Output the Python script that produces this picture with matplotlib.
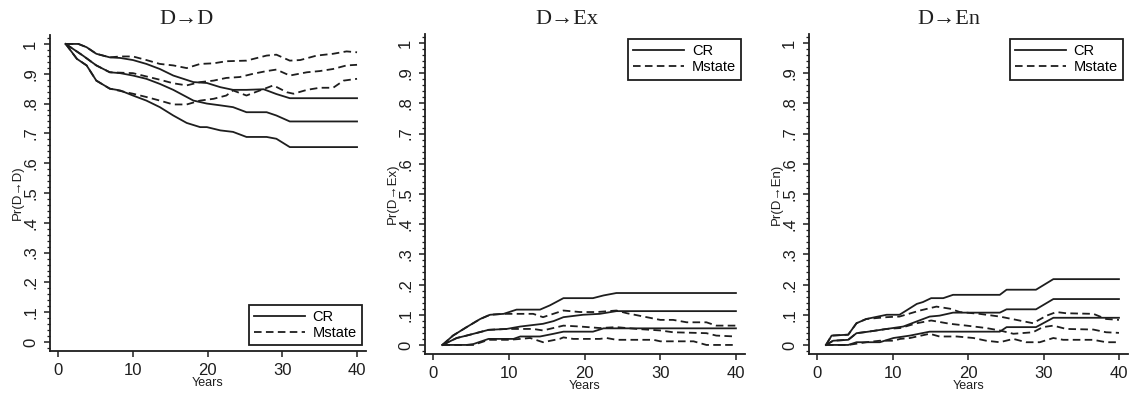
import numpy as np
import matplotlib.pyplot as plt
from matplotlib.ticker import MultipleLocator

# t = years, p = probability
# D -> D
dd_cr_hi_t = [1, 2.7, 3.8, 5.1, 6.9, 8.3, 10.0, 11.8, 13.6, 15.4, 18.1, 19.9, 21.7, 23.4, 25.2, 27.5, 29.2, 31.0, 40]
dd_cr_hi_p = [1.0, 1.0, 0.989, 0.967, 0.955, 0.953, 0.946, 0.933, 0.916, 0.894, 0.872, 0.869, 0.855, 0.846, 0.846, 0.848, 0.832, 0.818, 0.818]
dd_cr_est_t = [1, 3.3, 5.1, 6.9, 8.3, 10.0, 11.8, 13.6, 15.4, 17.2, 18.1, 19.9, 21.7, 23.4, 25.2, 27.9, 29.2, 31.0, 40]
dd_cr_est_p = [1.0, 0.961, 0.928, 0.905, 0.902, 0.894, 0.883, 0.866, 0.846, 0.822, 0.81, 0.80, 0.794, 0.788, 0.771, 0.771, 0.76, 0.74, 0.74]
dd_cr_lo_t = [1, 2.5, 3.8, 5.1, 6.9, 8.3, 10.0, 11.8, 13.6, 15.4, 17.2, 19.0, 19.9, 21.7, 23.4, 25.2, 27.9, 29.2, 31.0, 40]
dd_cr_lo_p = [1.0, 0.95, 0.928, 0.877, 0.85, 0.844, 0.827, 0.81, 0.788, 0.76, 0.735, 0.721, 0.721, 0.71, 0.705, 0.688, 0.688, 0.682, 0.654, 0.654]
dd_ms_hi_t = [1, 2.7, 3.8, 5.1, 6.9, 8.3, 10.0, 11.8, 13.6, 15.4, 17.2, 19.0, 20.8, 22.5, 25.2, 27.9, 29.2, 31.0, 32.4, 34.6, 36.8, 38.6, 40]
dd_ms_hi_p = [1.0, 1.0, 0.989, 0.967, 0.955, 0.958, 0.958, 0.946, 0.933, 0.928, 0.919, 0.933, 0.935, 0.942, 0.944, 0.961, 0.964, 0.944, 0.946, 0.961, 0.967, 0.975, 0.972]
dd_ms_est_t = [1, 3.3, 5.1, 6.9, 10.0, 11.8, 13.6, 15.4, 17.2, 19.0, 20.8, 22.5, 24.3, 26.1, 27.9, 29.2, 31.0, 33.3, 35.0, 36.8, 38.6, 40]
dd_ms_est_p = [1.0, 0.961, 0.928, 0.905, 0.902, 0.891, 0.88, 0.868, 0.861, 0.872, 0.877, 0.886, 0.889, 0.9, 0.909, 0.914, 0.894, 0.905, 0.909, 0.916, 0.928, 0.93]
dd_ms_lo_t = [1, 2.5, 3.8, 5.1, 6.9, 10.0, 11.8, 13.6, 15.4, 17.2, 19.0, 20.8, 22.5, 23.4, 25.2, 27.0, 28.8, 30.6, 31.5, 33.3, 35.0, 36.8, 38.2, 40]
dd_ms_lo_p = [1.0, 0.95, 0.928, 0.877, 0.85, 0.833, 0.822, 0.81, 0.797, 0.797, 0.81, 0.816, 0.827, 0.844, 0.827, 0.844, 0.861, 0.838, 0.833, 0.846, 0.853, 0.853, 0.877, 0.883]

# D -> Ex
de_cr_hi_t = [1.2, 2.6, 4.4, 6.2, 7.5, 9.3, 11.0, 14.1, 15.4, 17.2, 21.1, 22.5, 24.2, 40]
de_cr_hi_p = [0, 0.031, 0.059, 0.086, 0.10, 0.103, 0.117, 0.117, 0.131, 0.155, 0.155, 0.164, 0.172, 0.172]
de_cr_est_t = [1.2, 3.1, 4.4, 7.3, 9.7, 11.5, 14.5, 15.9, 17.2, 19.8, 22.0, 24.2, 40]
de_cr_est_p = [0, 0.023, 0.031, 0.05, 0.053, 0.061, 0.07, 0.079, 0.092, 0.10, 0.103, 0.112, 0.112]
de_cr_lo_t = [1.2, 4.4, 5.3, 7.3, 10.6, 11.5, 14.1, 15.9, 17.2, 21.1, 22.5, 40]
de_cr_lo_p = [0, 0, 0.003, 0.02, 0.02, 0.028, 0.028, 0.037, 0.044, 0.044, 0.055, 0.055]
de_ms_hi_t = [1.2, 2.6, 4.4, 6.2, 7.5, 9.3, 13.2, 14.5, 17.2, 19.4, 21.6, 24.2, 25.6, 28.2, 30.0, 31.7, 33.5, 36.1, 37.4, 40]
de_ms_hi_p = [0, 0.031, 0.059, 0.086, 0.10, 0.103, 0.103, 0.092, 0.114, 0.109, 0.109, 0.114, 0.105, 0.092, 0.083, 0.083, 0.075, 0.075, 0.064, 0.064]
de_ms_est_t = [1.2, 3.1, 4.4, 7.3, 9.7, 13.2, 14.5, 17.2, 19.4, 22.0, 24.2, 26.9, 30.0, 31.7, 36.1, 37.4, 40]
de_ms_est_p = [0, 0.023, 0.031, 0.05, 0.053, 0.053, 0.048, 0.064, 0.061, 0.056, 0.059, 0.053, 0.048, 0.042, 0.039, 0.031, 0.028]
de_ms_lo_t = [1.2, 5.3, 7.3, 10.1, 11.5, 12.8, 14.5, 16.7, 17.2, 18.5, 22.0, 22.9, 24.2, 29.1, 30.0, 34.4, 36.1, 40]
de_ms_lo_p = [0, 0, 0.017, 0.017, 0.02, 0.023, 0.009, 0.02, 0.025, 0.02, 0.02, 0.023, 0.017, 0.017, 0.012, 0.012, 0.0, 0.0]

# D -> En
den_cr_hi_t = [1.15, 1.9, 4.1, 5.2, 6.5, 9.2, 10.9, 11.8, 13.2, 14.0, 15.1, 16.7, 18.0, 24.2, 25.1, 29.0, 31.3, 40]
den_cr_hi_p = [0, 0.031, 0.034, 0.072, 0.086, 0.10, 0.10, 0.114, 0.136, 0.142, 0.155, 0.155, 0.166, 0.166, 0.183, 0.183, 0.218, 0.218]
den_cr_est_t = [1.15, 2.1, 4.1, 5.2, 6.5, 9.2, 11.4, 13.2, 14.9, 16.2, 18.0, 24.2, 25.1, 29.0, 31.3, 40]
den_cr_est_p = [0, 0.014, 0.017, 0.039, 0.043, 0.053, 0.061, 0.078, 0.094, 0.097, 0.107, 0.107, 0.118, 0.118, 0.152, 0.152]
den_cr_lo_t = [1.15, 4.1, 5.2, 8.3, 10.1, 12.3, 14.9, 24.2, 25.1, 29.0, 31.3, 40]
den_cr_lo_p = [0, 0, 0.009, 0.009, 0.023, 0.031, 0.044, 0.044, 0.059, 0.059, 0.09, 0.09]
den_ms_hi_t = [1.15, 1.9, 4.1, 5.2, 6.5, 9.2, 10.9, 13.6, 15.8, 17.6, 18.9, 21.5, 24.2, 26.4, 28.6, 30.4, 31.7, 33.0, 36.6, 38.3, 40]
den_ms_hi_p = [0, 0.031, 0.034, 0.072, 0.086, 0.092, 0.094, 0.114, 0.127, 0.12, 0.109, 0.103, 0.094, 0.083, 0.072, 0.097, 0.109, 0.105, 0.103, 0.086, 0.083]
den_ms_est_t = [1.15, 2.1, 4.1, 5.2, 6.5, 9.2, 11.0, 13.2, 15.1, 17.6, 19.8, 22.4, 24.2, 26.0, 28.6, 29.9, 31.3, 33.0, 36.6, 38.3, 40]
den_ms_est_p = [0, 0.014, 0.017, 0.039, 0.043, 0.053, 0.056, 0.072, 0.081, 0.07, 0.064, 0.056, 0.048, 0.037, 0.042, 0.059, 0.064, 0.053, 0.051, 0.042, 0.04]
den_ms_lo_t = [1.15, 4.1, 6.5, 8.3, 10.1, 11.0, 12.3, 14.9, 16.2, 18.5, 20.7, 22.4, 24.2, 26.0, 27.7, 29.5, 31.3, 32.6, 36.6, 38.3, 40]
den_ms_lo_p = [0, 0, 0.009, 0.014, 0.014, 0.02, 0.023, 0.037, 0.028, 0.028, 0.023, 0.014, 0.009, 0.02, 0.009, 0.009, 0.023, 0.017, 0.017, 0.009, 0.009]

titles = ['D\u2192D', 'D\u2192Ex', 'D\u2192En']
ylabels = ['Pr(D\u2192D)', 'Pr(D\u2192Ex)', 'Pr(D\u2192En)']
ytick_vals = [0, .1, .2, .3, .4, .5, .6, .7, .8, .9, 1]
ytick_labels = ['0', '.1', '.2', '.3', '.4', '.5', '.6', '.7', '.8', '.9', '1']
xtick_vals = [0, 10, 20, 30, 40]

panels = [
    ([(dd_cr_hi_t, dd_cr_hi_p), (dd_cr_est_t, dd_cr_est_p), (dd_cr_lo_t, dd_cr_lo_p)],
     [(dd_ms_hi_t, dd_ms_hi_p), (dd_ms_est_t, dd_ms_est_p), (dd_ms_lo_t, dd_ms_lo_p)]),
    ([(de_cr_hi_t, de_cr_hi_p), (de_cr_est_t, de_cr_est_p), (de_cr_lo_t, de_cr_lo_p)],
     [(de_ms_hi_t, de_ms_hi_p), (de_ms_est_t, de_ms_est_p), (de_ms_lo_t, de_ms_lo_p)]),
    ([(den_cr_hi_t, den_cr_hi_p), (den_cr_est_t, den_cr_est_p), (den_cr_lo_t, den_cr_lo_p)],
     [(den_ms_hi_t, den_ms_hi_p), (den_ms_est_t, den_ms_est_p), (den_ms_lo_t, den_ms_lo_p)]),
]

W, H = 1129, 396
# axes boxes in pixels: left, top, width, height
boxes = [(50, 35, 316, 316), (425, 34, 320, 320), (809, 34, 319, 320)]
title_x = [187, 567, 949]
legend_spots = [('lower right', (0.987, 0.019)), ('upper right', (0.9875, 0.984)), ('upper right', (0.984, 0.984))]

plt.rcParams['font.family'] = ['Liberation Sans', 'DejaVu Sans']
ink = '#1e1e1e'
dash = (0, (4.2, 2.4))

fig = plt.figure(figsize=(W / 100, H / 100), dpi=100)

for i, (cr_lines, ms_lines) in enumerate(panels):
    l, t, w, h = boxes[i]
    ax = fig.add_axes([l / W, (H - t - h) / H, w / W, h / H])
    for k, (tt, pp) in enumerate(cr_lines):
        ax.plot(tt, pp, color=ink, lw=1.3, label='CR' if k == 0 else None)
    for k, (tt, pp) in enumerate(ms_lines):
        ax.plot(tt, pp, color=ink, lw=1.3, ls=dash, label='Mstate' if k == 0 else None)

    ax.set_xlim(-1.1, 41.2)
    ax.set_ylim(-0.03, 1.03)
    ax.set_xticks(xtick_vals)
    ax.set_yticks(ytick_vals)
    ax.set_yticklabels(ytick_labels, rotation=90, va='center')
    ax.yaxis.set_minor_locator(MultipleLocator(0.02))
    ax.tick_params(axis='both', which='major', length=4.5, width=1.1, color=ink,
                   labelsize=12, labelcolor=ink, pad=4)
    ax.tick_params(axis='y', which='minor', length=2.5, width=0.9, color=ink)
    for side in ['top', 'right']:
        ax.spines[side].set_visible(False)
    for side in ['left', 'bottom']:
        ax.spines[side].set_linewidth(1.3)
        ax.spines[side].set_color(ink)

    ax.text(-32 / w, 0.5, ylabels[i], transform=ax.transAxes, rotation=90,
            ha='center', va='center', fontsize=9.5, color=ink)
    ax.text(0.5, -32 / h, 'Years', transform=ax.transAxes,
            ha='center', va='center', fontsize=9, color=ink)

    loc, anchor = legend_spots[i]
    leg = ax.legend(loc=loc, bbox_to_anchor=anchor, borderaxespad=0, fontsize=10.5,
                    handlelength=3.5, fancybox=False, framealpha=1, edgecolor=ink,
                    borderpad=0.35, labelspacing=0.15, handletextpad=0.5)
    leg.get_frame().set_linewidth(1.3)

    fig.text(title_x[i] / W, 1 - 20 / H, titles[i], ha='center', va='center',
             fontsize=16, family=['Liberation Serif', 'DejaVu Serif'], color=ink)

fig.savefig('out.png', dpi=100)
